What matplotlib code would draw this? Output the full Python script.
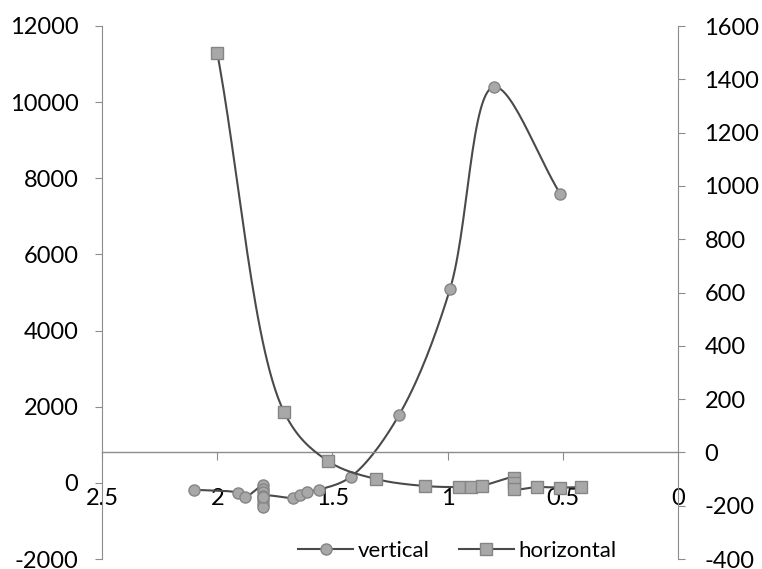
import numpy as np
import matplotlib
matplotlib.use("Agg")
import matplotlib.pyplot as plt
from matplotlib.lines import Line2D

plt.rcParams['font.family'] = ['Lato', 'DejaVu Sans']
plt.rcParams['axes.unicode_minus'] = False

# data
vert_x = [2.10, 1.91, 1.88, 1.80, 1.80, 1.80, 1.80, 1.80, 1.80, 1.80, 1.80,
          1.67, 1.64, 1.61, 1.56, 1.42, 1.21, 0.99, 0.80, 0.51]
vert_y = [-180, -260, -370, -50, -150, -250, -350, -450, -550, -640, -360,
          -395, -315, -240, -180, 160, 1790, 5080, 10400, 7580]

horiz_x = [2.00, 1.71, 1.52, 1.31, 1.10, 0.95, 0.90, 0.85, 0.71, 0.71, 0.71, 0.61, 0.51, 0.42]
horiz_y = [1500, 152, -32, -100, -126, -130, -128, -125, -95, -115, -136, -130, -132, -130]

xticks = [2.5, 2, 1.5, 1, 0.5, 0]
xtick_labels = ['2.5', '2', '1.5', '1', '0.5', '0']
left_ticks = [-2000, 0, 2000, 4000, 6000, 8000, 10000, 12000]
right_ticks = [-400, -200, 0, 200, 400, 600, 800, 1000, 1200, 1400, 1600]

XLIM = (2.5, 0)
YLIM_L = (-2000, 12000)
YLIM_R = (-400, 1600)


def smooth(xs, ys, ylim, n=30, alpha=0.5):
    # centripetal catmull-rom in pixel-like units, close to excel's smoothed line
    px = np.array([(XLIM[0] - v) / (XLIM[0] - XLIM[1]) * 576 for v in xs])
    py = np.array([(v - ylim[0]) / (ylim[1] - ylim[0]) * 533 for v in ys])
    P = np.column_stack([px, py])
    P = np.vstack([2 * P[0] - P[1], P, 2 * P[-1] - P[-2]])
    out = []
    for i in range(1, len(P) - 2):
        p0, p1, p2, p3 = P[i - 1], P[i], P[i + 1], P[i + 2]
        t0 = 0.0
        t1 = t0 + max(np.linalg.norm(p1 - p0) ** alpha, 1e-3)
        t2 = t1 + max(np.linalg.norm(p2 - p1) ** alpha, 1e-3)
        t3 = t2 + max(np.linalg.norm(p3 - p2) ** alpha, 1e-3)
        for t in np.linspace(t1, t2, n, endpoint=False):
            a1 = (t1 - t) / (t1 - t0) * p0 + (t - t0) / (t1 - t0) * p1
            a2 = (t2 - t) / (t2 - t1) * p1 + (t - t1) / (t2 - t1) * p2
            a3 = (t3 - t) / (t3 - t2) * p2 + (t - t2) / (t3 - t2) * p3
            b1 = (t2 - t) / (t2 - t0) * a1 + (t - t0) / (t2 - t0) * a2
            b2 = (t3 - t) / (t3 - t1) * a2 + (t - t1) / (t3 - t1) * a3
            out.append((t2 - t) / (t2 - t1) * b1 + (t - t1) / (t2 - t1) * b2)
    out.append(P[-2])
    out = np.array(out)
    sx = XLIM[0] - out[:, 0] / 576 * (XLIM[0] - XLIM[1])
    sy = ylim[0] + out[:, 1] / 533 * (ylim[1] - ylim[0])
    return sx, sy


line_c = '#4a4a4a'
face_c = '#a8a8a8'
edge_c = '#858585'
axis_c = '#8c8c8c'

fig = plt.figure(figsize=(7.62, 5.69), dpi=100)
ax = fig.add_axes([102 / 762, 10 / 569, 576 / 762, 533 / 569])
ax.set_xlim(*XLIM)
ax.set_ylim(*YLIM_L)
ax2 = ax.twinx()
ax2.set_ylim(*YLIM_R)

# vertical -> left axis
sx, sy = smooth(vert_x, vert_y, YLIM_L)
ax.plot(sx, sy, color=line_c, lw=1.5, zorder=3)
ax.plot(vert_x, vert_y, 'o', ms=8, mfc=face_c, mec=edge_c, zorder=4)

# horizontal -> right axis
sx, sy = smooth(horiz_x, horiz_y, YLIM_R)
ax2.plot(sx, sy, color=line_c, lw=1.5, zorder=3)
ax2.plot(horiz_x, horiz_y, 's', ms=8, mfc=face_c, mec=edge_c, zorder=4)

# spines
for s in ['top', 'right']:
    ax.spines[s].set_visible(False)
ax.spines['bottom'].set_position(('data', 0))
ax.spines['bottom'].set_visible(False)
ax.spines['left'].set_color(axis_c)
for s in ['top', 'left']:
    ax2.spines[s].set_visible(False)
ax2.spines['right'].set_color(axis_c)
ax2.spines['bottom'].set_position(('data', 0))
ax2.spines['bottom'].set_color(axis_c)
ax2.spines['bottom'].set_linewidth(1.0)

ax.set_xticks(xticks)
ax.set_xticklabels(xtick_labels)
ax.tick_params(axis='x', length=0, pad=4, labelsize=17)
ax.set_yticks(left_ticks)
ax.tick_params(axis='y', direction='out', length=5, color=axis_c, pad=12, labelsize=17)

ax2.xaxis.set_visible(True)
ax2.tick_params(axis='x', bottom=True, labelbottom=False, top=False, direction='out',
                length=6, color=axis_c)
ax2.set_yticks(right_ticks)
ax2.tick_params(axis='y', direction='out', length=5, color=axis_c, pad=14, labelsize=17)

handles = [
    Line2D([], [], color=line_c, lw=1.5, marker='o', ms=8, mfc=face_c, mec=edge_c),
    Line2D([], [], color=line_c, lw=1.5, marker='s', ms=8, mfc=face_c, mec=edge_c),
]
fig.legend(handles, ['vertical', 'horizontal'], loc='center', bbox_to_anchor=(0.6, 0.032),
           ncol=2, frameon=False, fontsize=16, handlelength=2.5, handletextpad=0.2,
           columnspacing=1.3, borderpad=0)

fig.savefig('out.png', dpi=100)
